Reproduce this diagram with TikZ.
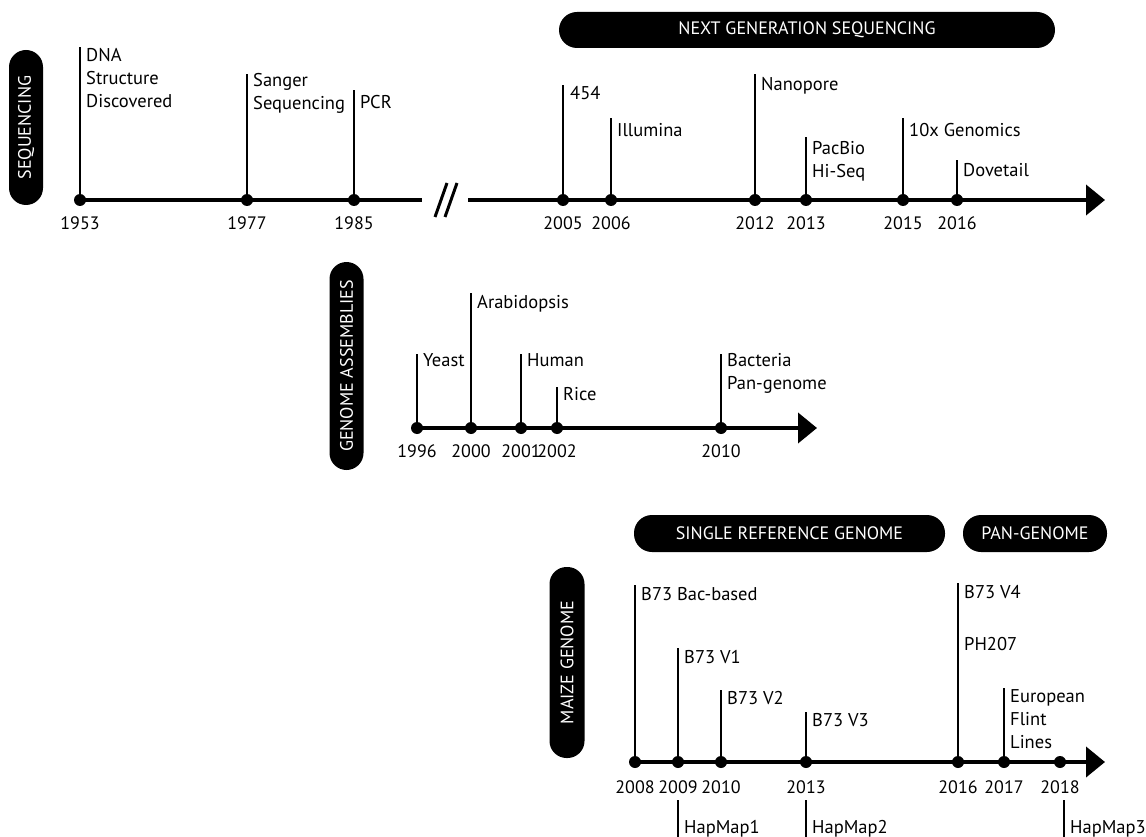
\documentclass[tikz,border=0pt]{standalone}
\usepackage{fontspec}
\setmainfont{PT Sans}
\usetikzlibrary{arrows.meta}
\begin{document}
\begin{tikzpicture}[x=1pt,y=-1pt,
  dot/.style={circle,fill=black,inner sep=0pt,minimum size=12pt},
  axis/.style={line width=4pt},
  axisarrow/.style={line width=4pt,-{Triangle[length=19pt,width=30pt]}},
  stem/.style={line width=1.8pt},
  lbl/.style={anchor=base west,inner sep=0pt,align=left,font=\fontsize{18.5}{23}\selectfont},
  yr/.style={anchor=base,inner sep=0pt,font=\fontsize{18}{23}\selectfont},
  pill/.style={fill=black,text=white,rounded corners=17pt,inner sep=0pt,font=\fontsize{18}{21}\selectfont},
  brk/.style={line width=3pt}]
\useasboundingbox (0,0) rectangle (1146,837);

% ---------- SEQUENCING ----------
\node[pill,rotate=90,minimum width=155pt,minimum height=34pt] (pseq) at (26,127.5) {SEQUENCING};
\node[pill,minimum width=496pt,minimum height=36pt,rounded corners=18pt] (pngs) at (807,30) {NEXT GENERATION SEQUENCING};

\coordinate (a1s) at (80,200);
\coordinate (a1e) at (422,200);
\coordinate (b1s) at (468,200);
\coordinate (b1e) at (1105,200);
\draw[axis] (a1s) -- (a1e);
\draw[axisarrow] (b1s) -- (b1e);
\coordinate (br1a) at (435,217); \coordinate (br1b) at (447,183);
\coordinate (br2a) at (445,217); \coordinate (br2b) at (457,183);
\draw[brk] (br1a) -- (br1b);
\draw[brk] (br2a) -- (br2b);

\foreach \n/\x/\top in {1953/80/47,1977/247/74,1985/354/90,2005/563/85,2006/611/118,2012/755/74,2013/806/137,2015/903/118,2016/957/160}{
  \node[dot] (s\n) at (\x,200) {};
  \coordinate (t\n) at (\x,\top);
  \draw[stem] (s\n) -- (t\n);
  \node[yr] (y\n) at (\x,230) {\n};
}
% multi-line labels are placed by the baseline of their last line
\node[lbl] (l1953) at (86,108) {DNA\\Structure\\Discovered};
\node[lbl] (l1977) at (253,110) {Sanger\\Sequencing};
\node[lbl] (l1985) at (360,109) {PCR};
\node[lbl] (l2005) at (570,100) {454};
\node[lbl] (l2006) at (617,137) {Illumina};
\node[lbl] (l2012) at (761,91) {Nanopore};
\node[lbl] (l2013) at (812,178) {PacBio\\Hi-Seq};
\node[lbl] (l2015) at (909,137) {10x Genomics};
\node[lbl] (l2016) at (963,177) {Dovetail};

% ---------- GENOME ASSEMBLIES ----------
\node[pill,rotate=90,minimum width=208pt,minimum height=34pt] (pga) at (346.5,366) {GENOME ASSEMBLIES};
\coordinate (a2s) at (417,428);
\coordinate (a2e) at (817,428);
\draw[axisarrow] (a2s) -- (a2e);
\foreach \n/\x/\top in {1996/417/354,2000/471/293,2001/521/354,2002/557/387,2010/721/354}{
  \node[dot] (g\n) at (\x,428) {};
  \coordinate (gt\n) at (\x,\top);
  \draw[stem] (g\n) -- (gt\n);
  \node[yr] (gy\n) at (\x,457) {\n};
}
\node[lbl] (gl1996) at (423,366) {Yeast};
\node[lbl] (gl2000) at (477,308) {Arabidopsis};
\node[lbl] (gl2001) at (527,366) {Human};
\node[lbl] (gl2002) at (563,400) {Rice};
\node[lbl] (gl2010) at (727,389) {Bacteria\\Pan-genome};

% ---------- MAIZE GENOME ----------
\node[pill,rotate=90,minimum width=191pt,minimum height=35pt] (pmz) at (567,662.5) {MAIZE GENOME};
\node[pill,minimum width=311pt,minimum height=37pt,rounded corners=18pt] (psr) at (789.5,533.5) {SINGLE REFERENCE GENOME};
\node[pill,minimum width=144pt,minimum height=37pt,rounded corners=18pt] (ppg) at (1035,533.5) {PAN-GENOME};
\coordinate (a3s) at (635,762);
\coordinate (a3e) at (1105,762);
\draw[axisarrow] (a3s) -- (a3e);
\foreach \n/\x in {2008/635,2009/678,2010/721,2013/806,2016/958,2017/1004,2018/1060}{
  \node[dot] (m\n) at (\x,762) {};
  \node[yr] (my\n) at (\x,793) {\n};
}
\foreach \n/\top in {2008/585,2009/648,2010/690,2013/712,2016/583,2017/688}{
  \coordinate (mt\n) at (0,\top);
  \draw[stem] (m\n) -- (m\n |- mt\n);
}
\node[lbl] (ml2008) at (641,600) {B73 Bac-based};
\node[lbl] (ml2009) at (684,663) {B73 V1};
\node[lbl] (ml2010) at (727,704) {B73 V2};
\node[lbl] (ml2013) at (812,726) {B73 V3};
\node[lbl] (ml2016a) at (964,598) {B73 V4};
\node[lbl] (ml2016b) at (964,650) {PH207};
\node[lbl] (ml2017) at (1010,748) {European\\Flint\\Lines};
% HapMaps below
\foreach \n/\x/\t in {2009/678/HapMap1,2013/806/HapMap2,2018/1064/HapMap3}{
  \coordinate (hs\n) at (\x,800);
  \coordinate (he\n) at (\x,837);
  \draw[stem] (hs\n) -- (he\n);
  \node[lbl] (hl\n) at (\x+6,833) {\t};
}
\end{tikzpicture}
\end{document}
